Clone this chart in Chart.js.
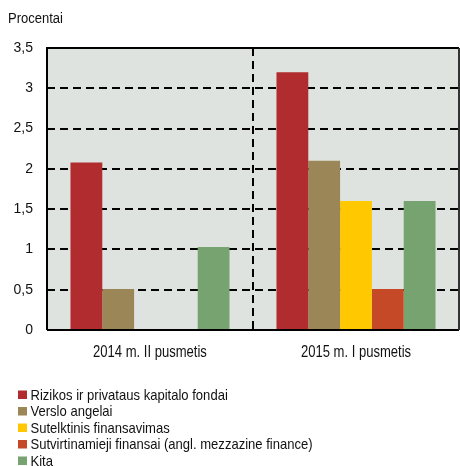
<!DOCTYPE html>
<html>
<head>
<meta charset="utf-8">
<script src="https://cdn.jsdelivr.net/npm/chart.js@4.4.1/dist/chart.umd.min.js"></script>
<style>
html,body{margin:0;padding:0;background:#fff;}
#wrap{position:relative;width:460px;height:466px;}
</style>
</head>
<body>
<div id="wrap"><canvas id="c" width="460" height="466"></canvas></div>
<script>
const categories = ["2014 m. II pusmetis", "2015 m. I pusmetis"];
const seriesNames = [
  "Rizikos ir privataus kapitalo fondai",
  "Verslo angelai",
  "Sutelktinis finansavimas",
  "Sutvirtinamieji finansai (angl. mezzazine finance)",
  "Kita"
];
const rizikos = [2.08, 3.20];
const verslo = [0.51, 2.10];
const sutelktinis = [null, 1.60];
const sutvirtinamieji = [null, 0.51];
const kita = [1.03, 1.60];
const yTicks = [0, 0.5, 1, 1.5, 2, 2.5, 3, 3.5];
const colors = ["#B02C2E", "#9A8656", "#FFC800", "#C64927", "#76A36F"];
const yTitle = "Procentai";

const FONT = "'Liberation Sans', Arial, sans-serif";

function narrowText(ctx, text, x, y, factor) {
  const w = ctx.measureText(text).width;
  ctx.fillText(text, x, y, w * factor);
}

const frameAndText = {
  id: 'frameAndText',
  beforeDraw(chart) {
    const {ctx, chartArea: a} = chart;
    ctx.save();
    ctx.fillStyle = '#DFE3DF';
    ctx.fillRect(a.left, a.top, a.right - a.left, a.bottom - a.top);
    ctx.restore();
  },
  afterDatasetsDraw(chart) {
    const {ctx, chartArea: a} = chart;
    ctx.save();
    ctx.strokeStyle = '#000';
    ctx.lineWidth = 2;
    ctx.beginPath();
    ctx.moveTo(a.left, a.bottom);
    ctx.lineTo(a.left, a.top);
    ctx.lineTo(a.right, a.top);
    ctx.stroke();
    ctx.beginPath();
    ctx.moveTo(a.left, a.bottom);
    ctx.lineTo(a.right, a.bottom);
    ctx.stroke();
    ctx.strokeStyle = '#333';
    ctx.beginPath();
    ctx.moveTo(a.right, a.top);
    ctx.lineTo(a.right, a.bottom);
    ctx.stroke();
    ctx.restore();
  },
  afterDraw(chart) {
    const ctx = chart.ctx;
    const xs = chart.scales.x;
    ctx.save();
    ctx.textBaseline = 'alphabetic';
    ctx.fillStyle = '#111';
    // axis title
    ctx.font = "15.5px " + FONT;
    ctx.textAlign = 'left';
    narrowText(ctx, yTitle, 8, 23, 0.84);
    // category labels
    ctx.font = "16px " + FONT;
    ctx.textAlign = 'center';
    chart.data.labels.forEach((lab, i) => {
      narrowText(ctx, lab, xs.getPixelForTick(i), 357, 0.815);
    });
    // legend
    ctx.font = "15px " + FONT;
    ctx.textAlign = 'left';
    chart.data.datasets.forEach((ds, i) => {
      const y = 399.5 + i * 16.5;
      ctx.fillStyle = ds.backgroundColor;
      ctx.fillRect(18, y - 9, 9, 8.5);
      ctx.fillStyle = '#111';
      narrowText(ctx, ds.label, 30.5, y, 0.87);
    });
    ctx.restore();
  }
};

const dataSeries = [rizikos, verslo, sutelktinis, sutvirtinamieji, kita];

new Chart(document.getElementById('c'), {
  type: 'bar',
  data: {
    labels: categories,
    datasets: dataSeries.map((d, i) => ({
      label: seriesNames[i],
      data: d,
      backgroundColor: colors[i],
      borderWidth: 0,
      categoryPercentage: 0.772,
      barPercentage: 1.0
    }))
  },
  options: {
    responsive: false,
    animation: false,
    layout: { padding: { left: 8, right: 1, top: 48, bottom: 0 } },
    plugins: {
      legend: { display: false },
      tooltip: { enabled: false },
      title: { display: false }
    },
    scales: {
      x: {
        grid: {
          offset: true,
          drawTicks: false,
          lineWidth: 2,
          color: (c) => (c.index === 1 ? '#000' : 'rgba(0,0,0,0)')
        },
        border: { display: false, dash: [8, 5] },
        ticks: { display: false },
        afterFit(s) { s.height = 136; }
      },
      y: {
        min: 0,
        max: 3.5,
        afterBuildTicks(s) { s.ticks = yTicks.map(v => ({ value: v })); },
        grid: { drawTicks: false, lineWidth: 2, color: '#000' },
        border: { display: false, dash: [8, 5] },
        ticks: {
          color: '#111',
          padding: 14,
          font: { family: FONT, size: 14 },
          callback: (v) => String(v).replace('.', ',')
        },
        afterFit(s) { s.width = 39; }
      }
    }
  },
  plugins: [frameAndText]
});
</script>
</body>
</html>
